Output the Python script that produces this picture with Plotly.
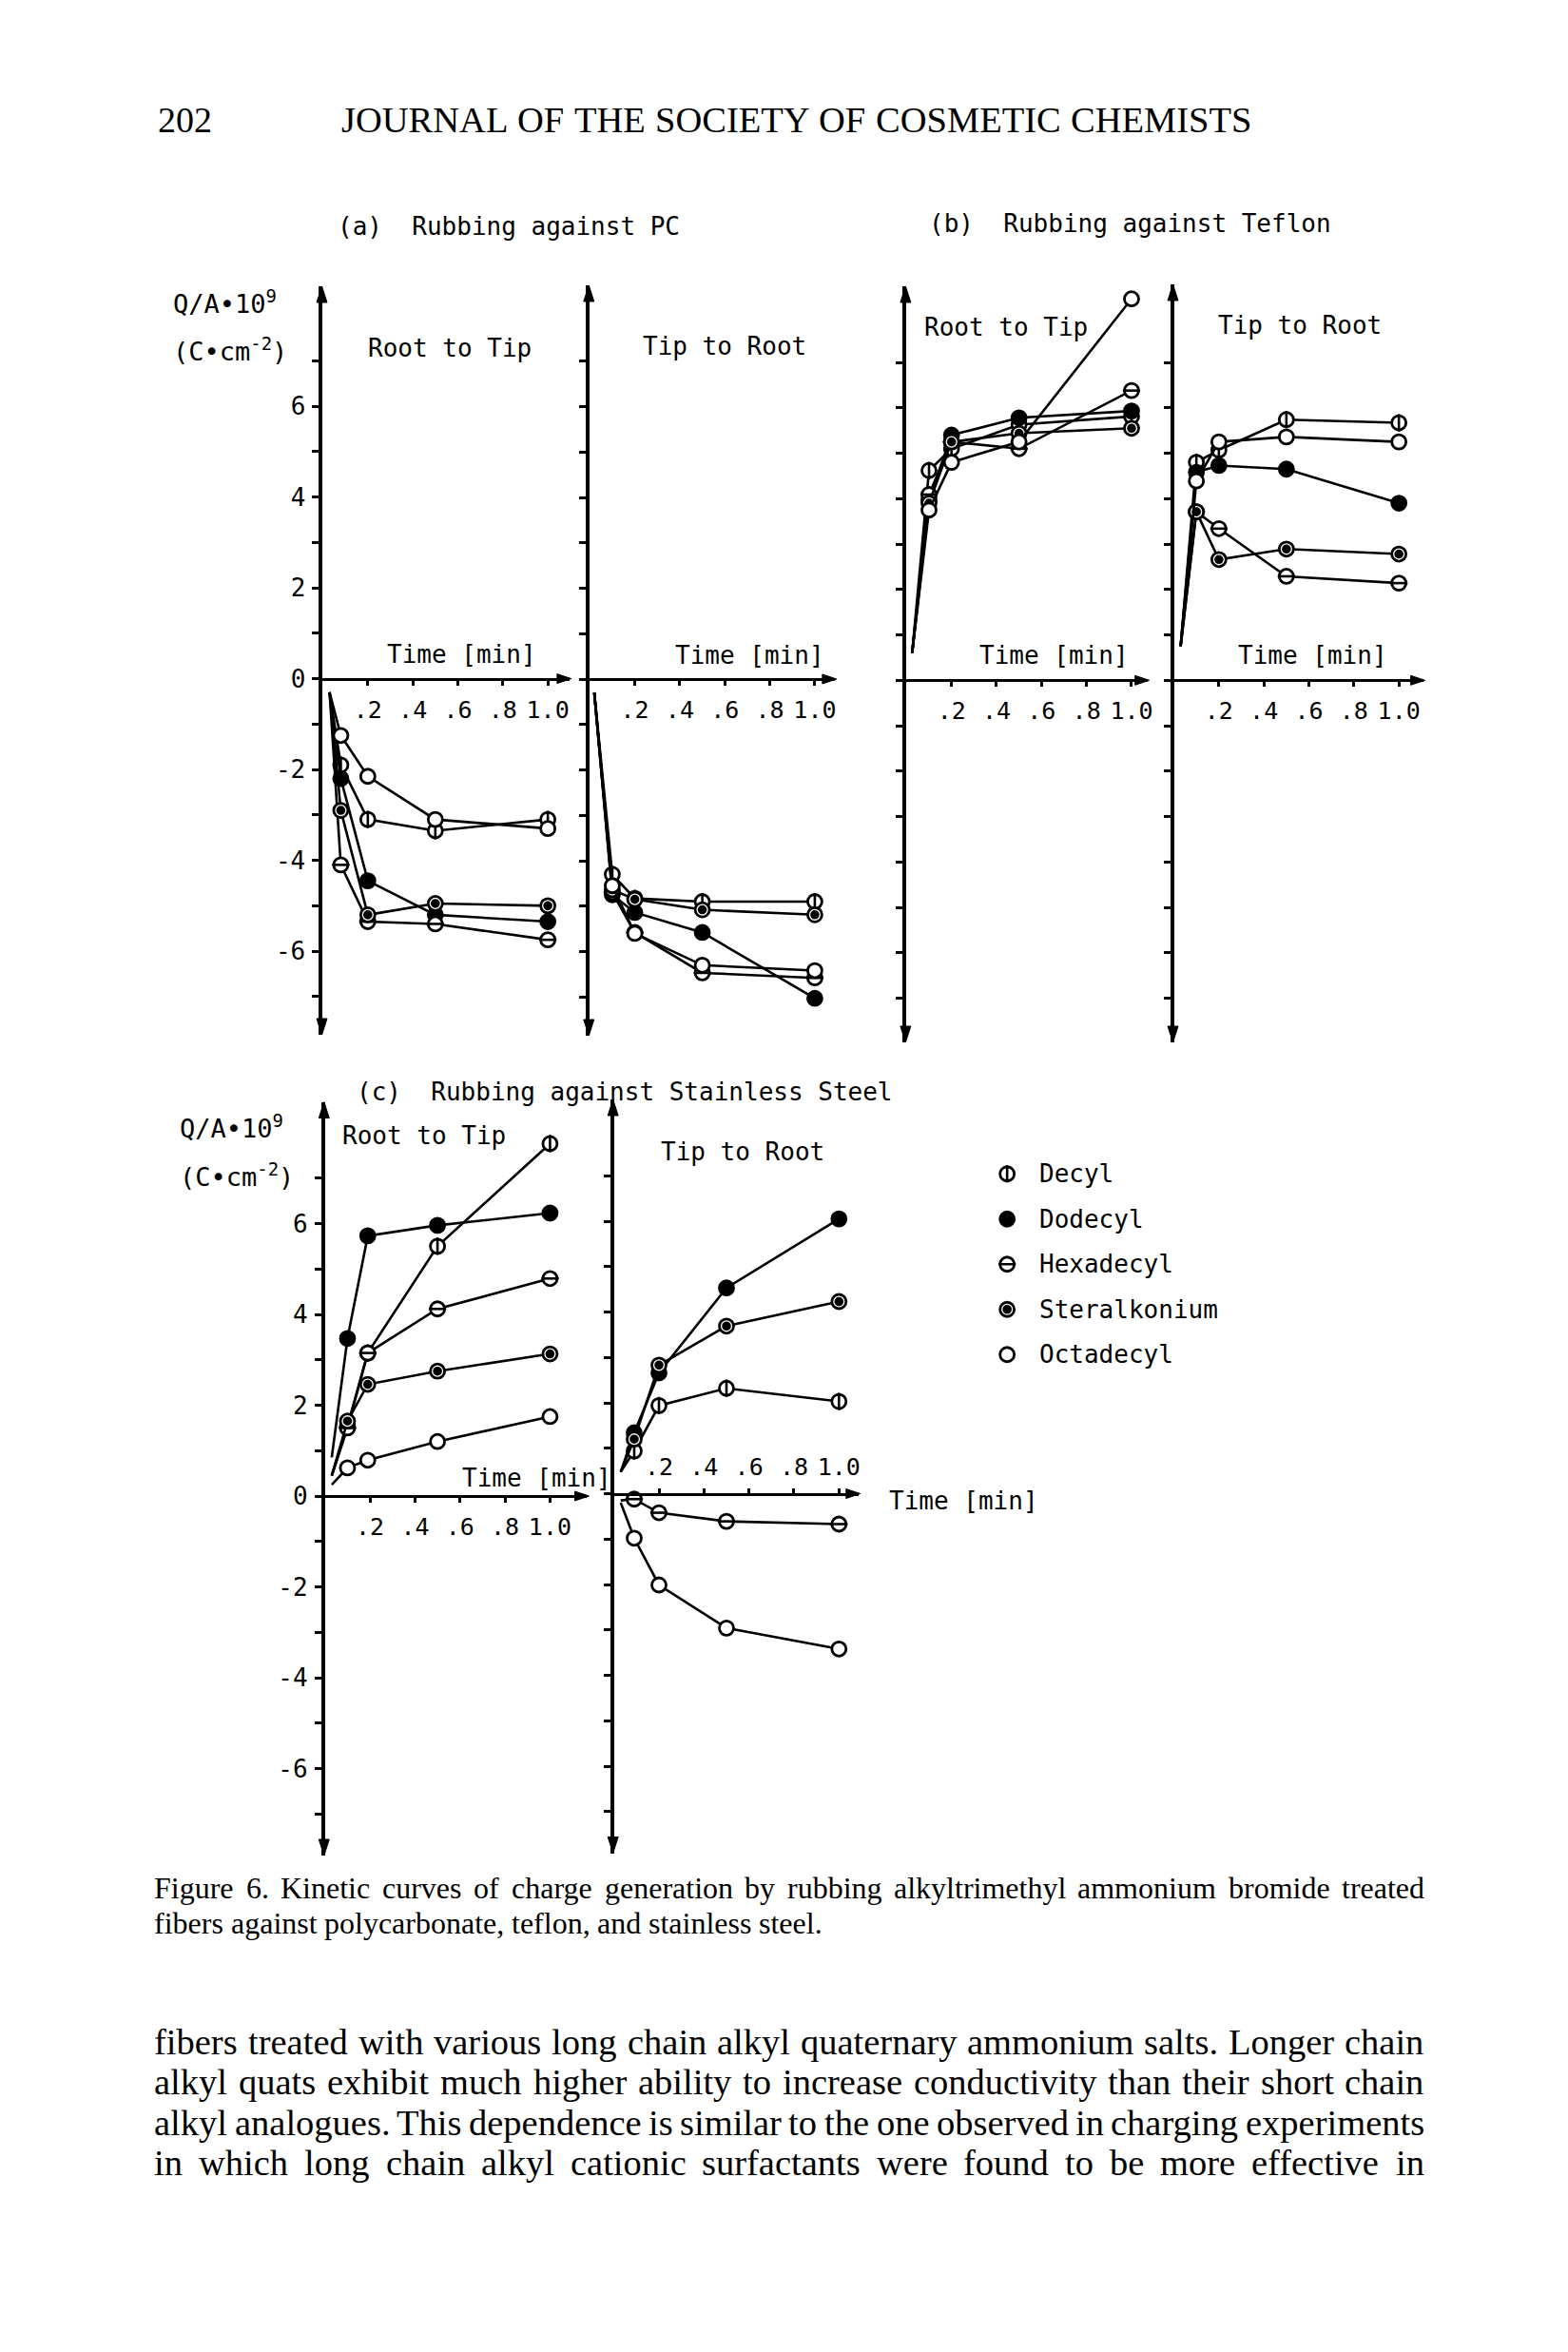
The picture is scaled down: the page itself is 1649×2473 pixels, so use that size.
import plotly.graph_objects as go

W, H = 1649, 2473

# ---------------- data ----------------
SERIES = ["Decyl", "Dodecyl", "Hexadecyl", "Steralkonium", "Octadecyl"]

X_TICKS = [0.2, 0.4, 0.6, 0.8, 1.0]
X_TICKTEXT = [".2", ".4", ".6", ".8", "1.0"]
Y_TICKS = [-7, -6, -5, -4, -3, -2, -1, 0, 1, 2, 3, 4, 5, 6, 7]
Y_LABELED = [-6, -4, -2, 0, 2, 4, 6]

# (a) Rubbing against PC - Root to Tip (first point = start of curve, no marker)
PC_RT_TIME = [0.03, 0.08, 0.2, 0.5, 1.0]
PC_RT_DECYL = [-0.3, -1.9, -3.1, -3.35, -3.1]
PC_RT_DODECYL = [-0.3, -2.2, -4.45, -5.2, -5.35]
PC_RT_HEXADECYL = [-0.3, -4.1, -5.35, -5.4, -5.75]
PC_RT_STERALKONIUM = [-0.3, -2.9, -5.2, -4.95, -5.0]
PC_RT_OCTADECYL = [-0.3, -1.25, -2.15, -3.1, -3.3]

# (a) Rubbing against PC - Tip to Root
PC_TR_TIME = [0.02, 0.1, 0.2, 0.5, 1.0]
PC_TR_DECYL = [-0.3, -4.3, -4.83, -4.9, -4.9]
PC_TR_DODECYL = [-0.3, -4.75, -5.14, -5.58, -7.03]
PC_TR_HEXADECYL = [-0.3, -4.7, -5.58, -6.47, -6.58]
PC_TR_STERALKONIUM = [-0.3, -4.64, -4.85, -5.08, -5.19]
PC_TR_OCTADECYL = [-0.3, -4.55, -5.6, -6.3, -6.42]

# (b) Rubbing against Teflon - Root to Tip
TF_RT_TIME = [0.025, 0.1, 0.2, 0.5, 1.0]
TF_RT_DECYL = [0.6, 4.62, 5.1, 5.63, 5.81]
TF_RT_DODECYL = [0.6, 3.98, 5.4, 5.78, 5.93]
TF_RT_HEXADECYL = [0.6, 4.09, 5.25, 5.1, 6.38]
TF_RT_STERALKONIUM = [0.6, 3.9, 5.25, 5.44, 5.55]
TF_RT_OCTADECYL = [0.6, 3.75, 4.8, 5.25, 8.4]

# (b) Rubbing against Teflon - Tip to Root
TF_TR_TIME = [0.03, 0.1, 0.2, 0.5, 1.0]
TF_TR_DECYL = [0.75, 4.8, 5.07, 5.74, 5.67]
TF_TR_DODECYL = [0.75, 4.58, 4.73, 4.65, 3.9]
TF_TR_HEXADECYL = [0.75, 3.71, 3.34, 2.29, 2.14]
TF_TR_STERALKONIUM = [0.75, 3.71, 2.66, 2.89, 2.78]
TF_TR_OCTADECYL = [0.75, 4.39, 5.25, 5.36, 5.25]

# (c) Rubbing against Stainless Steel - Root to Tip
SS_RT_TIME = [0.03, 0.1, 0.19, 0.5, 1.0]
SS_RT_DECYL = [0.45, 1.54, 3.15, 5.5, 7.76]
SS_RT_DODECYL = [0.85, 3.47, 5.73, 5.96, 6.23]
SS_RT_HEXADECYL = [0.45, 1.5, 3.15, 4.12, 4.79]
SS_RT_STERALKONIUM = [0.45, 1.65, 2.46, 2.75, 3.13]
SS_RT_OCTADECYL = [0.25, 0.62, 0.79, 1.2, 1.75]

# (c) Rubbing against Stainless Steel - Tip to Root
SS_TR_TIME = [0.03, 0.09, 0.2, 0.5, 1.0]
SS_TR_DECYL = [0.48, 0.94, 1.94, 2.32, 2.03]
SS_TR_DODECYL = [0.48, 1.34, 2.66, 4.53, 6.05]
SS_TR_HEXADECYL = [-0.15, -0.12, -0.42, -0.61, -0.67]
SS_TR_STERALKONIUM = [0.48, 1.2, 2.83, 3.69, 4.23]
SS_TR_OCTADECYL = [-0.2, -0.98, -2.01, -2.96, -3.42]

HEADER_PAGE = "202"
HEADER_TITLE = "JOURNAL OF THE SOCIETY OF COSMETIC CHEMISTS"
CAPTION = [
    "Figure 6. Kinetic curves of charge generation by rubbing alkyltrimethyl ammonium bromide treated",
    "fibers against polycarbonate, teflon, and stainless steel.",
]
BODY = [
    "fibers treated with various long chain alkyl quaternary ammonium salts. Longer chain",
    "alkyl quats exhibit much higher ability to increase conductivity than their short chain",
    "alkyl analogues. This dependence is similar to the one observed in charging experiments",
    "in which long chain alkyl cationic surfactants were found to be more effective in",
]

# ---------------- styling ----------------
MONO = "DejaVu Sans Mono"
SERIF = "Liberation Serif"
XS = 237.5   # px per minute
YS = 47.75   # px per unit of Q/A
OFF_X = 0
OFF_Y = 7

STYLE = {
    "Decyl": dict(fill="white", overlay="line-ns", osize=13),
    "Dodecyl": dict(fill="black", overlay=None, osize=0),
    "Hexadecyl": dict(fill="white", overlay="line-ew", osize=13),
    "Steralkonium": dict(fill="white", overlay="circle", osize=7),
    "Octadecyl": dict(fill="white", overlay=None, osize=0),
}

PANELS = [
    dict(time=PC_RT_TIME, data=[PC_RT_DECYL, PC_RT_DODECYL, PC_RT_HEXADECYL, PC_RT_STERALKONIUM, PC_RT_OCTADECYL],
         x0=332.7, xend=593, zero=712.6, top=300, bottom=1087, ylab=True, side="bottom"),
    dict(time=PC_TR_TIME, data=[PC_TR_DECYL, PC_TR_DODECYL, PC_TR_HEXADECYL, PC_TR_STERALKONIUM, PC_TR_OCTADECYL],
         x0=614.5, xend=873, zero=713, top=299, bottom=1088, ylab=False, side="bottom"),
    dict(time=TF_RT_TIME, data=[TF_RT_DECYL, TF_RT_DODECYL, TF_RT_HEXADECYL, TF_RT_STERALKONIUM, TF_RT_OCTADECYL],
         x0=948.8, xend=1203, zero=714.3, top=300, bottom=1095, ylab=False, side="bottom"),
    dict(time=TF_TR_TIME, data=[TF_TR_DECYL, TF_TR_DODECYL, TF_TR_HEXADECYL, TF_TR_STERALKONIUM, TF_TR_OCTADECYL],
         x0=1231, xend=1494, zero=714.3, top=298, bottom=1095, ylab=False, side="bottom"),
    dict(time=SS_RT_TIME, data=[SS_RT_DECYL, SS_RT_DODECYL, SS_RT_HEXADECYL, SS_RT_STERALKONIUM, SS_RT_OCTADECYL],
         x0=335, xend=611.7, zero=1572, top=1157.6, bottom=1950, ylab=True, side="bottom"),
    dict(time=SS_TR_TIME, data=[SS_TR_DECYL, SS_TR_DODECYL, SS_TR_HEXADECYL, SS_TR_STERALKONIUM, SS_TR_OCTADECYL],
         x0=640, xend=898, zero=1569.5, top=1155, bottom=1947.5, ylab=False, side="top"),
]

fig = go.Figure()
layout = {}
annotations = []
shapes = []


def px(xp):
    return (xp - OFF_X) / W


def py(yp):
    return 1 - (yp - OFF_Y) / H


def tri(points):
    path = "M " + " L ".join(f"{px(a):.6f},{py(b):.6f}" for a, b in points) + " Z"
    shapes.append(dict(type="path", path=path, xref="paper", yref="paper",
                       fillcolor="black", line=dict(color="black", width=1)))


def add_series(name, t, v, xa, ya):
    st = STYLE[name]
    fig.add_trace(go.Scatter(x=t, y=v, mode="lines", line=dict(color="black", width=2.6),
                             xaxis=xa, yaxis=ya, showlegend=False, hoverinfo="skip", cliponaxis=False))
    fig.add_trace(go.Scatter(x=t[1:], y=v[1:], mode="markers",
                             marker=dict(symbol="circle", size=15, color=st["fill"],
                                         line=dict(color="black", width=2.8)),
                             xaxis=xa, yaxis=ya, showlegend=False, hoverinfo="skip", cliponaxis=False))
    if st["overlay"]:
        fig.add_trace(go.Scatter(x=t[1:], y=v[1:], mode="markers",
                                 marker=dict(symbol=st["overlay"], size=st["osize"], color="black",
                                             line=dict(color="black", width=2.6)),
                                 xaxis=xa, yaxis=ya, showlegend=False, hoverinfo="skip", cliponaxis=False))


for i, p in enumerate(PANELS, start=1):
    sfx = "" if i == 1 else str(i)
    xa, ya = "x" + sfx, "y" + sfx
    xr = (p["xend"] - p["x0"]) / XS
    ylo = -(p["bottom"] - p["zero"]) / YS
    yhi = (p["zero"] - p["top"]) / YS
    layout["xaxis" + sfx] = dict(
        domain=[px(p["x0"]), px(p["xend"])], range=[0, xr], anchor="free", position=py(p["zero"]),
        showline=True, linecolor="black", linewidth=3, ticks="outside", ticklen=5, tickwidth=2.5,
        tickcolor="black", tickvals=X_TICKS, ticktext=X_TICKTEXT, side=p["side"],
        tickfont=dict(family=MONO, size=25, color="black"), showgrid=False, zeroline=False,
        ticklabelstandoff=4, fixedrange=True)
    ytext = [(str(v) if (p["ylab"] and v in Y_LABELED) else "") for v in Y_TICKS]
    layout["yaxis" + sfx] = dict(
        domain=[py(p["bottom"]), py(p["top"])], range=[ylo, yhi], anchor=xa,
        showline=True, linecolor="black", linewidth=4, ticks="outside", ticklen=7, tickwidth=2.5,
        tickcolor="black", tickvals=Y_TICKS, ticktext=ytext,
        tickfont=dict(family=MONO, size=26, color="black"), showgrid=False, zeroline=False,
        ticklabelstandoff=2, fixedrange=True)
    for name, vals in zip(SERIES, p["data"]):
        add_series(name, p["time"], vals, xa, ya)
    # axis arrowheads
    x0, top, bot, zero, xe = p["x0"] - 1, p["top"], p["bottom"], p["zero"], p["xend"]
    tri([(x0, top), (x0 - 5.5, top + 17), (x0 + 5.5, top + 17)])
    tri([(x0, bot), (x0 - 5.5, bot - 17), (x0 + 5.5, bot - 17)])
    tri([(xe + 2, zero), (xe - 13, zero - 5), (xe - 13, zero + 5)])

# ---------------- legend (own small axis) ----------------
layout["xaxis7"] = dict(domain=[px(1035), px(1320)], range=[0, 285], visible=False, fixedrange=True,
                        anchor="y7")
layout["yaxis7"] = dict(domain=[py(1447), py(1209.5)], range=[4.5, -0.5], visible=False, fixedrange=True,
                        anchor="x7")
for k, name in enumerate(SERIES):
    st = STYLE[name]
    fig.add_trace(go.Scatter(x=[20], y=[k], mode="markers",
                             marker=dict(symbol="circle", size=15, color=st["fill"],
                                         line=dict(color="black", width=2.8)),
                             xaxis="x7", yaxis="y7", showlegend=False, hoverinfo="skip"))
    if st["overlay"]:
        fig.add_trace(go.Scatter(x=[20], y=[k], mode="markers",
                                 marker=dict(symbol=st["overlay"], size=st["osize"], color="black",
                                             line=dict(color="black", width=2.6)),
                                 xaxis="x7", yaxis="y7", showlegend=False, hoverinfo="skip"))
    annotations.append(dict(x=52, y=k, xref="x7", yref="y7", text=name, showarrow=False,
                            xanchor="left", yanchor="middle", font=dict(family=MONO, size=26, color="black")))

# ---------------- figure texts ----------------
NB = "\u00a0"


def mono_text(text, x, y, size=26):
    annotations.append(dict(x=px(x), y=py(y), xref="paper", yref="paper", text=text, showarrow=False,
                            xanchor="left", yanchor="middle", font=dict(family=MONO, size=size, color="black")))


mono_text("(a)" + NB + NB + "Rubbing against PC", 346, 237)
mono_text("(b)" + NB + NB + "Rubbing against Teflon", 971, 234)
mono_text("(c)" + NB + NB + "Rubbing against Stainless Steel", 366, 1147)
mono_text("Root to Tip", 378, 365)
mono_text("Tip to Root", 668, 363)
mono_text("Root to Tip", 966, 343)
mono_text("Tip to Root", 1276, 341)
mono_text("Root to Tip", 351, 1193)
mono_text("Tip to Root", 688, 1210)
for (x, y) in [(398, 687), (703, 688), (1024, 688), (1297, 688), (478, 1553), (928, 1577)]:
    mono_text("Time [min]", x, y)
for (x, y1, y2) in [(173, 316, 366), (180, 1183, 1234)]:
    mono_text("Q/A\u2022" + "10<sup>9</sup>", x, y1, 27)
    mono_text("(C\u2022cm<sup>-2</sup>)", x, y2, 27)

# Times-metric widths (per 1000 em) for justification of serif text
TW = {" ": 250, ",": 250, ".": 250, "-": 333, "(": 333, ")": 333, "6": 500, "0": 500, "2": 500,
      "A": 722, "B": 667, "C": 667, "D": 722, "E": 611, "F": 556, "G": 722, "H": 722, "I": 333, "J": 389,
      "K": 722, "L": 611, "M": 889, "N": 722, "O": 722, "P": 556, "Q": 722, "R": 667, "S": 556, "T": 611,
      "U": 722, "V": 722, "W": 944, "X": 722, "Y": 722, "Z": 611,
      "a": 444, "b": 500, "c": 444, "d": 500, "e": 444, "f": 333, "g": 500, "h": 500, "i": 278, "j": 278,
      "k": 500, "l": 278, "m": 778, "n": 500, "o": 500, "p": 500, "q": 500, "r": 333, "s": 389, "t": 278,
      "u": 500, "v": 500, "w": 722, "x": 500, "y": 500, "z": 444}


def tw(s, size):
    return sum(TW.get(c, 500) for c in s) / 1000.0 * size


def serif_line(line, xl, xr, y, size, justify):
    words = line.split(" ")
    widths = [tw(w, size) for w in words]
    if justify and len(words) > 1:
        gap = max((xr - xl - sum(widths)) / (len(words) - 1), 0.12 * size)
    else:
        gap = tw(" ", size)
    x = xl
    for w, wd in zip(words, widths):
        annotations.append(dict(x=px(x), y=py(y), xref="paper", yref="paper", text=w, showarrow=False,
                                xanchor="left", yanchor="middle", borderpad=0,
                                font=dict(family=SERIF, size=size, color="black")))
        x += wd + gap


annotations.append(dict(x=px(158), y=py(125), xref="paper", yref="paper", text=HEADER_PAGE, showarrow=False,
                        xanchor="left", yanchor="middle", borderpad=0,
                        font=dict(family=SERIF, size=38, color="black")))
serif_line(HEADER_TITLE, 351, 1311, 125, 38.5, True)
serif_line(CAPTION[0], 154, 1494, 1984, 32, True)
serif_line(CAPTION[1], 154, 855, 2021, 32, False)
for k, line in enumerate(BODY):
    serif_line(line, 154, 1494, 2146 + 42.4 * k, 38.5, True)

fig.update_layout(
    width=W, height=H, margin=dict(l=0, r=0, t=0, b=0),
    paper_bgcolor="white", plot_bgcolor="rgba(0,0,0,0)", showlegend=False,
    annotations=annotations, shapes=shapes, **layout)

fig.write_html("out.html")
